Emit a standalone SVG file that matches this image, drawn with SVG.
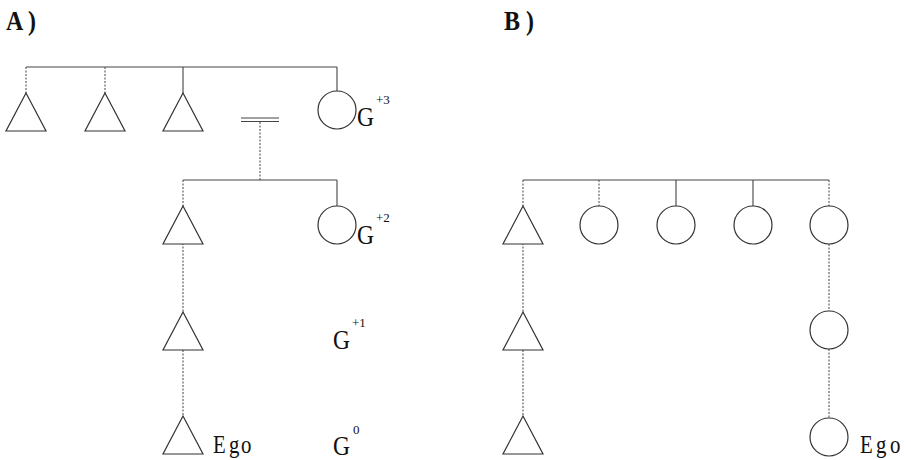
<svg xmlns="http://www.w3.org/2000/svg" width="911" height="460" viewBox="0 0 911 460">
<style>
.ln{stroke:#444;stroke-width:1.1;fill:none}
.dt{stroke:#555;stroke-width:1.1;fill:none;stroke-dasharray:2 1.5}
.sh{stroke:#333;stroke-width:1.2;fill:#fff}
.lb{font-family:"Liberation Serif",serif;font-size:27px;fill:#111}
.eg{font-family:"Liberation Serif",serif;font-size:26px;fill:#111}
.sp{font-family:"Liberation Serif",serif;font-size:13px;fill:#111}
.pn{font-family:"Liberation Serif",serif;font-size:28px;font-weight:bold;fill:#111}
</style>
<defs>
<path id="tri" d="M0,0 L-20,38 L20,38 Z"/>
</defs>
<rect width="911" height="460" fill="#fff"/>
<text class="pn" x="6" y="30" textLength="30" lengthAdjust="spacingAndGlyphs">A )</text>
<text class="pn" x="504" y="30" textLength="30" lengthAdjust="spacingAndGlyphs">B )</text>
<g id="connectors">
<path class="ln" d="M26,67 H337"/>
<path class="dt" d="M26,67 V93 M105,67 V93"/>
<path class="ln" d="M183,67 V93 M337,67 V91"/>
<path class="ln" d="M241,118 H279 M241,121.5 H279"/>
<path class="dt" d="M260,122 V180"/>
<path class="ln" d="M183,180 H337"/>
<path class="dt" d="M183,180 V206"/>
<path class="ln" d="M337,180 V206"/>
<path class="dt" d="M183,243 V312"/>
<path class="dt" d="M183,350 V416"/>
<path class="ln" d="M523,180 H829"/>
<path class="dt" d="M523,180 V206 M599,180 V206 M829,180 V206"/>
<path class="ln" d="M676,180 V206 M753,180 V206"/>
<path class="dt" d="M523,243 V312 M523,350 V416"/>
<path class="dt" d="M829,244 V311 M829,349 V418"/>
</g>
<g id="a-m1"><use href="#tri" class="sh" x="26" y="93"/></g>
<g id="a-m2"><use href="#tri" class="sh" x="105" y="93"/></g>
<g id="a-m3"><use href="#tri" class="sh" x="183" y="93"/></g>
<g id="a-f1"><circle class="sh" cx="337" cy="110" r="19"/><text class="lb" x="357" y="126" textLength="17" lengthAdjust="spacingAndGlyphs">G</text><text class="sp" x="376" y="104">+3</text></g>
<g id="a-m4"><use href="#tri" class="sh" x="183" y="206"/></g>
<g id="a-f2"><circle class="sh" cx="337" cy="225" r="19"/><text class="lb" x="357" y="244" textLength="17" lengthAdjust="spacingAndGlyphs">G</text><text class="sp" x="376" y="222">+2</text></g>
<g id="a-m5"><use href="#tri" class="sh" x="183" y="312"/></g>
<text class="lb" x="333" y="349" textLength="17" lengthAdjust="spacingAndGlyphs">G</text><text class="sp" x="352" y="327">+1</text>
<g id="a-ego"><use href="#tri" class="sh" x="183" y="416"/><text class="eg" transform="translate(213,453) scale(0.8,1)"><tspan x="0">E</tspan><tspan x="20">g</tspan><tspan x="35">o</tspan></text></g>
<text class="lb" x="333" y="455" textLength="17" lengthAdjust="spacingAndGlyphs">G</text><text class="sp" x="353" y="434">0</text>
<g id="b-m1"><use href="#tri" class="sh" x="523" y="206"/></g>
<g id="b-f1"><circle class="sh" cx="599" cy="225" r="19"/></g>
<g id="b-f2"><circle class="sh" cx="676" cy="225" r="19"/></g>
<g id="b-f3"><circle class="sh" cx="753" cy="225" r="19"/></g>
<g id="b-f4"><circle class="sh" cx="829" cy="225" r="19"/></g>
<g id="b-m2"><use href="#tri" class="sh" x="523" y="312"/></g>
<g id="b-m3"><use href="#tri" class="sh" x="523" y="416"/></g>
<g id="b-f5"><circle class="sh" cx="829" cy="330" r="19"/></g>
<g id="b-ego"><circle class="sh" cx="829" cy="437" r="19"/><text class="eg" transform="translate(860,453) scale(0.8,1)"><tspan x="0">E</tspan><tspan x="20">g</tspan><tspan x="37.5">o</tspan></text></g>
</svg>
